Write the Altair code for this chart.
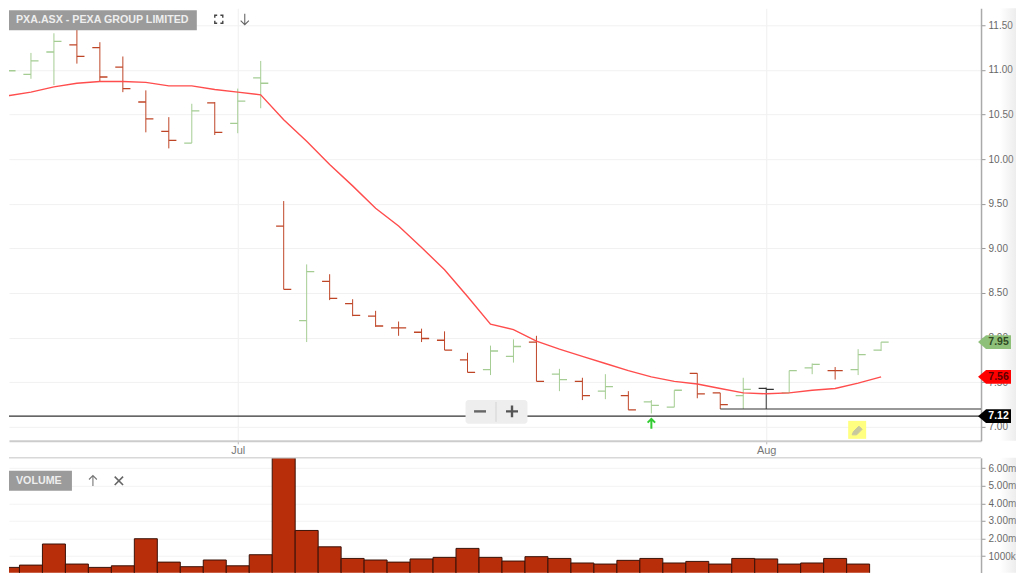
import altair as alt
import pandas as pd

FONT = "Liberation Sans"

opens = [10.65,10.95,11.20,11.28,11.25,11.03,10.64,10.31,10.18,10.63,10.40,10.91,9.25,8.19,8.63,8.38,8.24,8.11,8.06,7.97,7.75,7.64,7.79,7.95,7.59,7.51,7.40,7.35,7.28,7.22,7.60,7.38,7.35,7.43,7.38,7.66,7.63,7.64,7.86]
highs = [11.00,11.19,11.41,11.55,11.31,11.15,10.77,10.47,10.62,10.64,10.79,11.10,9.53,8.82,8.71,8.43,8.30,8.18,8.10,8.07,7.83,7.91,7.98,8.02,7.65,7.55,7.59,7.40,7.30,7.41,7.60,7.38,7.55,7.44,7.63,7.71,7.67,7.87,7.95]
lows = [10.58,10.90,10.83,11.07,10.87,10.75,10.30,10.12,10.18,10.27,10.29,10.57,8.54,7.95,8.42,8.24,8.12,8.02,7.95,7.86,7.61,7.58,7.72,7.51,7.40,7.30,7.31,7.19,7.15,7.22,7.32,7.20,7.20,7.20,7.38,7.59,7.53,7.58,7.85]
closes = [10.99,11.10,11.32,11.15,10.92,10.79,10.45,10.21,10.54,10.30,10.65,10.85,8.54,8.74,8.44,8.25,8.13,8.11,7.99,7.86,7.61,7.85,7.90,7.51,7.53,7.35,7.45,7.19,7.24,7.41,7.37,7.25,7.42,7.42,7.63,7.70,7.63,7.81,7.95]
moves = list("gggrrrrrgrgg" + "rgrrrrrrrggrgrgrggrrgkggrgg")
average = [10.71,10.75,10.81,10.85,10.87,10.87,10.86,10.82,10.82,10.78,10.75,10.72,10.44,10.20,9.94,9.70,9.45,9.25,9.01,8.76,8.46,8.15,8.09,7.96,7.87,7.79,7.71,7.63,7.56,7.51,7.48,7.43,7.38,7.37,7.38,7.41,7.43,7.49,7.56]
volumes = [0.36,0.49,1.69,0.55,0.36,0.45,1.99,0.66,0.40,0.78,0.45,1.08,6.59,2.46,1.53,0.87,0.78,0.66,0.84,0.93,1.44,0.93,0.72,0.97,0.87,0.61,0.55,0.76,0.87,0.61,0.70,0.55,0.87,0.84,0.55,0.61,0.87,0.55]

price_ticks = [7.0,7.5,8.0,8.5,9.0,9.5,10.0,10.5,11.0,11.5]
volume_ticks = [1e6,2e6,3e6,4e6,5e6,6e6]
month_positions = [10,33]
month_labels = ["Jul","Aug"]
close_price, low_line_price = 7.12, 7.20
badges = pd.DataFrame({"price":[7.95,7.56,7.12],"label":["7.95","7.56","7.12"],
                       "fill":["#8fc07a","#ff0000","#000000"],"ink":["#2f4a25","#5a0000","#ffffff"]})

n = len(opens)
bars = pd.DataFrame({"i":list(range(n)),"o":opens,"h":highs,"l":lows,"c":closes,"m":moves,"avg":average})
bars["ol"] = bars["i"] - 0.33
bars["cr"] = bars["i"] + 0.33
vol = pd.DataFrame({"i":list(range(len(volumes))),"v":[x*1e6 for x in volumes]})
vol["a"] = vol["i"] - 0.5
vol["b"] = vol["i"] + 0.5

W1, H1, H2 = 973, 433, 115
xs = alt.Scale(domain=[0.045, 42.349], nice=False, zero=False)
ys = alt.Scale(domain=[6.843, 11.69], nice=False, zero=False)
col = alt.Color("m:N", legend=None, scale=alt.Scale(domain=["g","r","k"], range=["#a5cd93","#bf4527","#333333"]))
month_expr = "{" + ",".join(f"'{p}':'{l}'" for p, l in zip(month_positions, month_labels)) + "}[datum.value]"

x_axis = alt.Axis(values=month_positions, labelExpr=month_expr, title=None, grid=True, gridColor="#efefef",
                  domainColor="#cccccc", domainWidth=2, tickColor="#bbbbbb", tickSize=3, labelColor="#777777",
                  labelFont=FONT, labelFontSize=11, labelPadding=1, labelFlush=False)
y_axis = alt.Axis(orient="right", values=price_ticks, format=".2f", title=None, grid=True, gridColor="#f1f1f1",
                  domainColor="#aaaaaa", domainWidth=1.5, tickColor="#999999", tickSize=4, labelPadding=3,
                  labelColor="#666666", labelFont=FONT, labelFontSize=10)

base = alt.Chart(bars)
ranges = base.mark_rule(strokeWidth=1, clip=True).encode(
    x=alt.X("i:Q", scale=xs, axis=x_axis), y=alt.Y("h:Q", scale=ys, axis=y_axis), y2="l:Q", color=col)
open_t = base.mark_rule(strokeWidth=1.3, clip=True).encode(
    x=alt.X("ol:Q", scale=xs), x2="i:Q", y=alt.Y("o:Q", scale=ys), color=col)
close_t = base.mark_rule(strokeWidth=1.3, clip=True).encode(
    x=alt.X("i:Q", scale=xs), x2="cr:Q", y=alt.Y("c:Q", scale=ys), color=col)
ma = base.mark_line(color="#ff4d4d", strokeWidth=1.4, clip=True).encode(
    x=alt.X("i:Q", scale=xs), y=alt.Y("avg:Q", scale=ys))

one = alt.Chart(pd.DataFrame({"k":[0]}))
close_line = alt.Chart(pd.DataFrame({"p":[close_price]})).mark_rule(color="#333333", strokeWidth=1.2).encode(
    x=alt.value(0), x2=alt.value(W1), y=alt.Y("p:Q", scale=ys))
low_line = alt.Chart(pd.DataFrame({"p":[low_line_price],"i":[31]})).mark_rule(color="#333333", strokeWidth=1.2).encode(
    x=alt.X("i:Q", scale=xs), x2=alt.value(W1), y=alt.Y("p:Q", scale=ys))

PENT = "M-1 0L-0.515 -0.42L1 -0.42L1 0.42L-0.515 0.42Z"
badge_df = alt.Chart(badges)
badge_shape = badge_df.mark_point(shape=PENT, size=1089, filled=True, opacity=1, strokeWidth=0).encode(
    x=alt.value(986.5), y=alt.Y("price:Q", scale=ys), color=alt.Color("fill:N", scale=None))
badge_text = badge_df.mark_text(font=FONT, fontSize=10.5, fontWeight="bold", align="center", baseline="middle").encode(
    x=alt.value(990.5), y=alt.Y("price:Q", scale=ys), text="label:N", color=alt.Color("ink:N", scale=None))

def rect(x, x2, y, y2, **kw):
    return one.mark_rect(**kw).encode(x=alt.value(x), x2=alt.value(x2), y=alt.value(y), y2=alt.value(y2))

def glyph(path, x, y, size, color, sw=1.3, filled=False):
    kw = {"fill": color} if filled else {}
    return one.mark_point(shape=path, size=size, filled=filled, stroke=color, strokeWidth=sw, opacity=1, **kw).encode(
        x=alt.value(x), y=alt.value(y))

def label(text, x, y, size=10.7, color="#eeeeee", weight="bold"):
    return one.mark_text(text=text, font=FONT, fontSize=size, fontWeight=weight, color=color, align="left",
                         baseline="middle").encode(x=alt.value(x), y=alt.value(y))

def shade(h):
    return rect(992, 1008, 0, h, color=alt.LinearGradient(gradient="linear", x1=0, x2=1, y1=0, y2=0, stops=[
        alt.GradientStop(color="rgba(190,190,190,0)", offset=0), alt.GradientStop(color="rgba(190,190,190,0.28)", offset=1)]))

DOWN = "M0 -1L0 1M-0.75 0.25L0 1L0.75 0.25"
UP = "M0 1L0 -1M-0.75 -0.25L0 -1L0.75 -0.25"
CORNERS = "M-1 -0.4L-1 -1L-0.4 -1M0.4 -1L1 -1L1 -0.4M1 0.4L1 1L0.4 1M-0.4 1L-1 1L-1 0.4"
CROSS = "M-1 -1L1 1M1 -1L-1 1"
PLUS = "M-1 0L1 0M0 -1L0 1"
MINUS = "M-1 0L1 0"
PENCIL = "M-1 1L-0.75 0.35L0.35 -0.75L1 -0.1L-0.1 1Z"

top = alt.layer(
    ranges, open_t, close_t, ma, close_line, low_line,
    rect(0, 188, 2, 22, color="#9b9b9b"),
    label("PXA.ASX - PEXA GROUP LIMITED", 7, 12),
    glyph(CORNERS, 210, 11, 64, "#444444", 1.4),
    glyph(DOWN, 236, 11, 120, "#666666", 1.1),
    rect(457, 519, 392, 416, color="#eeeeee", cornerRadius=3),
    glyph(MINUS, 471.5, 403.5, 144, "#666666", 2.4),
    rect(487, 488, 394, 414, color="#d4d4d4"),
    glyph(PLUS, 503.5, 403.5, 144, "#555555", 2.4),
    glyph(UP, 643, 416, 100, "#33cc33", 2),
    rect(840, 858, 413, 431, color="#ffff80"),
    glyph(PENCIL, 849, 422, 100, "#c8c8a0", 1, True),
    shade(H1),
    badge_shape, badge_text,
).properties(width=W1, height=H1)

vs = alt.Scale(domain=[57000, 6590000], nice=False, zero=False)
v_axis = alt.Axis(orient="right", values=volume_ticks,
                  labelExpr="datum.value < 1500000 ? '1000k' : format(datum.value/1000000,'.2f') + 'm'",
                  title=None, grid=True, gridColor="#f3f3f3", domainColor="#aaaaaa", domainWidth=1.5, tickColor="#999999",
                  tickSize=4, labelPadding=3, labelColor="#666666", labelFont=FONT, labelFontSize=10)
vbars = alt.Chart(vol).mark_bar(color="#b82d0a", stroke="#3a1208", strokeWidth=1, clip=True).encode(
    x=alt.X("a:Q", scale=xs, axis=None), x2="b:Q", y=alt.Y("v:Q", scale=vs, axis=v_axis), y2=alt.value(H2 + 2))
bottom = alt.layer(
    vbars,
    one.mark_rule(color="#d8d8d8", strokeWidth=1.5).encode(x=alt.value(0), x2=alt.value(W1), y=alt.value(0)),
    rect(0, 63, 13, 33, color="#9b9b9b"),
    label("VOLUME", 7, 23),
    glyph(UP, 84, 23, 110, "#777777", 1.1),
    glyph(CROSS, 110, 23, 70, "#666666", 1.6),
    shade(H2),
).properties(width=W1, height=H2)

chart = alt.vconcat(top, bottom, spacing=1).resolve_scale(color="independent").properties(
    padding=0, background="#ffffff").configure_view(stroke=None)

chart.save("out.html", embed_options={"renderer": "svg", "actions": False})
